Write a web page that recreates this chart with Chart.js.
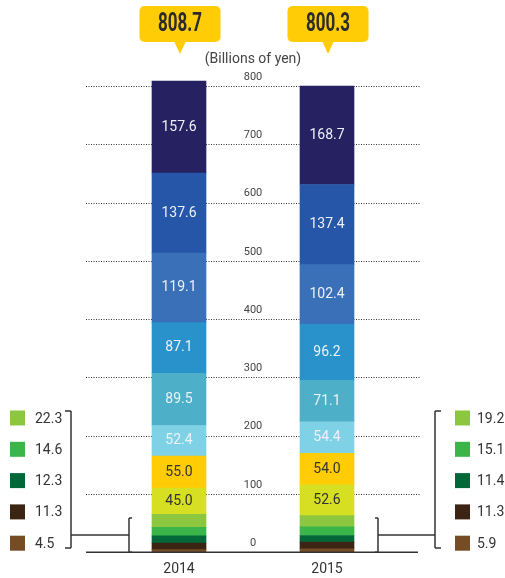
<!DOCTYPE html>
<html>
<head>
<meta charset="utf-8">
<script src="https://cdn.jsdelivr.net/npm/chart.js@4.4.1/dist/chart.umd.min.js"></script>
<style>
html,body{margin:0;padding:0;background:#fff;}
#wrap{width:505px;height:578px;}
</style>
</head>
<body>
<div id="wrap"><canvas id="salesChart"></canvas></div>
<script>
// values in billions of yen, bottom segment first
const years=["2014","2015"];
const totals=[808.7,800.3];
const vals2014=[4.5,11.3,12.3,14.6,22.3,45.0,55.0,52.4,89.5,87.1,119.1,137.6,157.6];
const vals2015=[5.9,11.3,11.4,15.1,19.2,52.6,54.0,54.4,71.1,96.2,102.4,137.4,168.7];
const yTicks=[0,100,200,300,400,500,600,700,800];
const unitLabel="(Billions of yen)";

const segColors=["#754c24","#3c2415","#006838","#39b54a","#8dc63f","#d7df23","#ffcc05",
  "#7fd1e6","#4eafc8","#2a92cb","#3a70b7","#2556a7","#262261"];
const FONT="Roboto, 'DejaVu Sans', sans-serif";

const datasets=segColors.map((c,i)=>({
  label:"seg"+i,
  data:[vals2014[i],vals2015[i]],
  backgroundColor:c,
  barThickness:54,
  clip:false,
  stack:"s"
}));

function line(ctx,x1,y1,x2,y2){
  ctx.beginPath(); ctx.moveTo(x1,y1); ctx.lineTo(x2,y2); ctx.stroke();
}

const decor={
  id:"decor",
  beforeDatasetsDraw(chart){
    const ctx=chart.ctx, y=chart.scales.y, x=chart.scales.x;
    ctx.save();
    // dotted grid
    ctx.strokeStyle="#333"; ctx.lineWidth=1; ctx.setLineDash([1,1.5]);
    yTicks.forEach(v=>{
      if(v===0) return;
      const py=Math.round(y.getPixelForValue(v))+0.5;
      line(ctx,86,py,420,py);
    });
    ctx.setLineDash([]);
    // tick labels between the bars
    const mid=(x.getPixelForValue(0)+x.getPixelForValue(1))/2;
    ctx.fillStyle="#444"; ctx.font="11px "+FONT;
    ctx.textAlign="center"; ctx.textBaseline="middle";
    yTicks.forEach(v=>ctx.fillText(String(v),mid,y.getPixelForValue(v)-9));
    ctx.restore();
  },
  afterDatasetsDraw(chart){
    const ctx=chart.ctx, y=chart.scales.y, x=chart.scales.x;
    ctx.save();
    // baseline
    const by=y.getPixelForValue(0);
    ctx.strokeStyle="#333"; ctx.lineWidth=1.5;
    line(ctx,86,by,418,by);

    // values inside bars
    ctx.textAlign="center"; ctx.textBaseline="middle";
    ctx.font="14px "+FONT;
    for(let i=5;i<datasets.length;i++){
      const meta=chart.getDatasetMeta(i);
      meta.data.forEach((bar,j)=>{
        const v=datasets[i].data[j];
        ctx.fillStyle=(i<7)?"#333":"#eef1f8";
        ctx.fillText(v.toFixed(1),bar.x,(bar.y+bar.base)/2);
      });
    }

    // total callouts
    totals.forEach((t,j)=>{
      const cx=x.getPixelForValue(j)+1;
      const w=81,h=36,top=6,r=5;
      ctx.fillStyle="#ffcc05";
      ctx.beginPath();
      ctx.roundRect(cx-w/2,top,w,h,r);
      ctx.fill();
      ctx.beginPath();
      ctx.moveTo(cx-6,top+h-1); ctx.lineTo(cx+6,top+h-1); ctx.lineTo(cx,top+h+12);
      ctx.closePath(); ctx.fill();
      ctx.save();
      ctx.translate(cx,top+h/2+1);
      ctx.scale(0.68,1);
      ctx.fillStyle="#2b2b2b";
      ctx.font="bold 25px "+FONT;
      ctx.fillText(t.toFixed(1),0,0);
      ctx.restore();
    });
    ctx.fillStyle="#444"; ctx.font="14px "+FONT;
    ctx.fillText(unitLabel,(x.getPixelForValue(0)+x.getPixelForValue(1))/2,59);

    // side legends for the small segments
    ctx.font="14px "+FONT; ctx.textBaseline="middle";
    for(let k=0;k<5;k++){
      const i=4-k, ly=418+k*31.3;
      ctx.fillStyle=segColors[i];
      ctx.fillRect(10,ly-7.5,15,15);
      ctx.fillRect(455,ly-7.5,15,15);
      ctx.fillStyle="#333"; ctx.textAlign="left";
      ctx.fillText(vals2014[i].toFixed(1),35,ly+1);
      ctx.fillText(vals2015[i].toFixed(1),477,ly+1);
    }

    // brackets
    ctx.strokeStyle="#333"; ctx.lineWidth=1.5;
    const it=518, ib=by, im=(it+ib)/2;
    // left
    line(ctx,65,411,71,411); line(ctx,71,411,71,548); line(ctx,65,548,71,548);
    line(ctx,71,im,129,im);
    line(ctx,132,it,129,it); line(ctx,129,it,129,ib); line(ctx,129,ib,132,ib);
    // right
    line(ctx,375,it,378,it); line(ctx,378,it,378,ib); line(ctx,375,ib,378,ib);
    line(ctx,378,im,435,im);
    line(ctx,441,411,435,411); line(ctx,435,411,435,548); line(ctx,435,548,441,548);
    ctx.restore();
  }
};

new Chart(document.getElementById("salesChart"),{
  type:"bar",
  data:{labels:years,datasets},
  options:{
    responsive:true,
    maintainAspectRatio:false,
    animation:false,
    layout:{padding:{left:105,right:104,top:86,bottom:-9}},
    scales:{
      x:{
        stacked:true,
        grid:{display:false,drawTicks:false},
        border:{display:false},
        ticks:{padding:9,color:"#333",font:{size:14,family:FONT}}
      },
      y:{stacked:true,display:false,min:0,max:800}
    },
    plugins:{legend:{display:false},tooltip:{enabled:false}}
  },
  plugins:[decor]
});
</script>
</body>
</html>
